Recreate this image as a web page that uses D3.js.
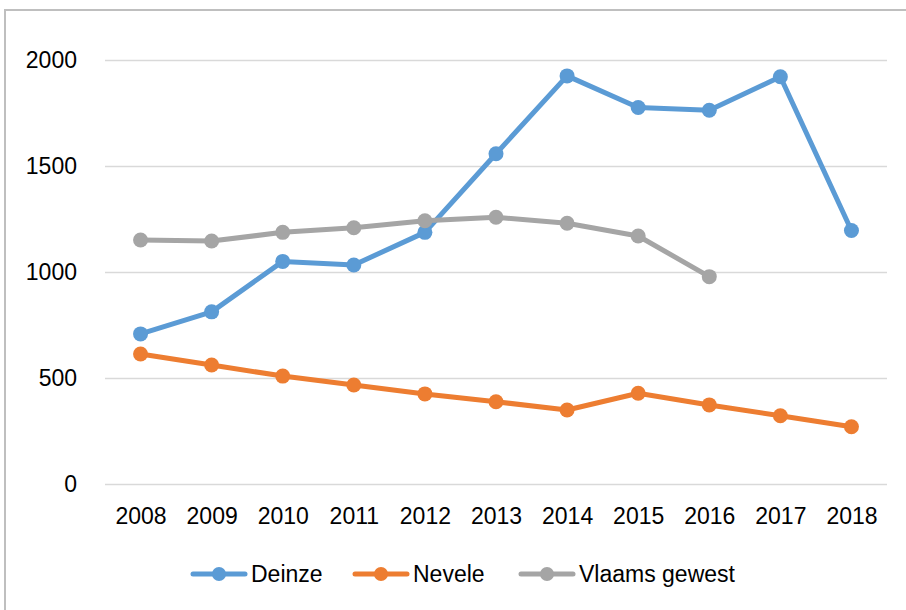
<!DOCTYPE html>
<html>
<head>
<meta charset="utf-8">
<script src="https://cdn.jsdelivr.net/npm/d3@7"></script>
<style>
  body { margin: 0; background: #fff; }
  svg text { font-family: "Liberation Sans", Arial, sans-serif; fill: #000; }
</style>
</head>
<body>
<div id="chart"></div>
<script>
// data
var years = [2008, 2009, 2010, 2011, 2012, 2013, 2014, 2015, 2016, 2017, 2018];
var deinze = [708, 812, 1050, 1033, 1187, 1558, 1925, 1776, 1763, 1921, 1196];
var nevele = [613, 561, 509, 467, 425, 388, 349, 428, 373, 322, 270];
var vlaams = [1151, 1146, 1187, 1209, 1242, 1258, 1230, 1170, 978, null, null];
var yTicks = [0, 500, 1000, 1500, 2000];

var seriesNames = ["Deinze", "Nevele", "Vlaams gewest"];
var seriesColors = ["#5B9BD5", "#ED7D31", "#A5A5A5"];
var seriesValues = [deinze, nevele, vlaams];

var width = 906, height = 610;
var plot = {left: 105, right: 887, top: 60, bottom: 484};
var fontSize = 23;

var svg = d3.select("#chart").append("svg")
    .attr("width", width)
    .attr("height", height);

// chart border
svg.append("rect")
    .attr("x", 5).attr("y", 10)
    .attr("width", width + 10).attr("height", height + 10)
    .attr("fill", "none")
    .attr("stroke", "#bfbfbf")
    .attr("stroke-width", 2);

var x = d3.scalePoint()
    .domain(years)
    .range([plot.left, plot.right])
    .padding(0.5);

var y = d3.scaleLinear()
    .domain([0, 2000])
    .range([plot.bottom, plot.top]);

// gridlines + y labels
var yAxis = svg.append("g")
    .attr("transform", "translate(" + plot.left + ",0)")
    .call(d3.axisLeft(y).tickValues(yTicks).tickFormat(d3.format("d"))
      .tickSize(-(plot.right - plot.left)).tickPadding(28));
yAxis.select(".domain").remove();
yAxis.selectAll(".tick line").attr("stroke", "#d9d9d9").attr("stroke-width", 1.5);
yAxis.selectAll(".tick text")
    .attr("font-size", fontSize)
    .attr("font-family", "Liberation Sans, Arial, sans-serif")
    .attr("fill", "#000");

// x labels
var xAxis = svg.append("g")
    .attr("transform", "translate(0," + plot.bottom + ")")
    .call(d3.axisBottom(x).tickSize(0).tickPadding(24));
xAxis.select(".domain").remove();
xAxis.selectAll(".tick text")
    .attr("font-size", fontSize)
    .attr("font-family", "Liberation Sans, Arial, sans-serif")
    .attr("fill", "#000");

var line = d3.line()
    .defined(function(d) { return d != null; })
    .x(function(d, i) { return x(years[i]); })
    .y(function(d) { return y(d); });

seriesValues.forEach(function(vals, s) {
  var g = svg.append("g");
  g.append("path")
      .datum(vals)
      .attr("fill", "none")
      .attr("stroke", seriesColors[s])
      .attr("stroke-width", 5)
      .attr("stroke-linejoin", "round")
      .attr("stroke-linecap", "round")
      .attr("d", line);
  g.selectAll("circle")
      .data(vals.map(function(v, i) { return {v: v, i: i}; }).filter(function(d) { return d.v != null; }))
      .enter().append("circle")
      .attr("cx", function(d) { return x(years[d.i]); })
      .attr("cy", function(d) { return y(d.v); })
      .attr("r", 7.5)
      .attr("fill", seriesColors[s]);
});

// legend
var legendX = [193, 355, 521];
var legend = svg.append("g").attr("transform", "translate(0,574)");
seriesNames.forEach(function(name, s) {
  var lg = legend.append("g").attr("transform", "translate(" + legendX[s] + ",0)");
  lg.append("line")
      .attr("x1", 0).attr("x2", 52)
      .attr("stroke", seriesColors[s])
      .attr("stroke-width", 5)
      .attr("stroke-linecap", "round");
  lg.append("circle").attr("cx", 26).attr("r", 7).attr("fill", seriesColors[s]);
  lg.append("text")
      .attr("x", 58).attr("dy", "0.35em")
      .attr("font-size", fontSize)
      .text(name);
});
</script>
</body>
</html>
